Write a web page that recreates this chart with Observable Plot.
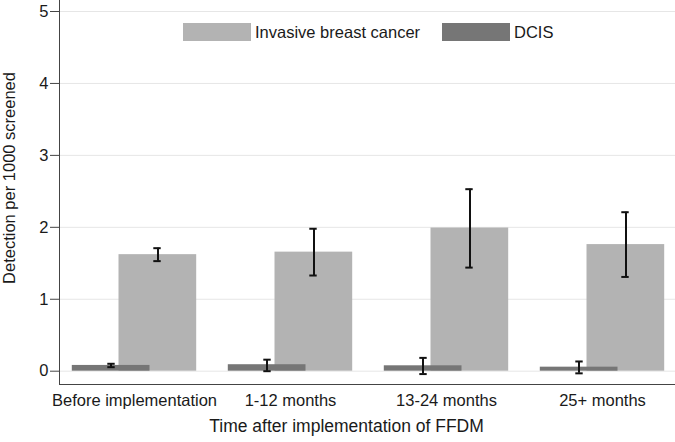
<!DOCTYPE html>
<html>
<head>
<meta charset="utf-8">
<script src="https://cdn.jsdelivr.net/npm/d3@7"></script>
<script src="https://cdn.jsdelivr.net/npm/@observablehq/plot@0.6"></script>
<style>
  html, body { margin: 0; padding: 0; background: white; }
  #wrap { position: relative; width: 675px; height: 442px; font-family: "Liberation Sans", Arial, Helvetica, sans-serif; color: #1a1a1a; }
  .legend { position: absolute; top: 23px; height: 18px; display: flex; align-items: center; font-size: 16.5px; white-space: nowrap; }
  .sw { display: inline-block; width: 68px; height: 18px; margin-right: 4px; }
</style>
</head>
<body>
<div id="wrap"></div>
<script>
// ---- data ----
const groups = ["Before implementation", "1-12 months", "13-24 months", "25+ months"];
const seriesNames = ["Invasive breast cancer", "DCIS"];
const seriesColors = ["#b3b3b3", "#767676"];
const invasive   = [1.62, 1.655, 1.99, 1.76];
const invasiveLo = [1.53, 1.33, 1.44, 1.31];
const invasiveHi = [1.71, 1.98, 2.53, 2.21];
const dcis   = [0.08, 0.09, 0.075, 0.056];
const dcisLo = [0.056, 0.0, -0.04, -0.03];
const dcisHi = [0.103, 0.16, 0.185, 0.135];
const yTicks = [0, 1, 2, 3, 4, 5];
const xLabel = "Time after implementation of FFDM";
const yLabel = "Detection per 1000 screened";

const invRows = groups.map((g, i) => ({group: g, value: invasive[i], lo: invasiveLo[i], hi: invasiveHi[i]}));
const dcisRows = groups.map((g, i) => ({group: g, value: dcis[i], lo: dcisLo[i], hi: dcisHi[i]}));

const errStyle = {stroke: "#111", strokeWidth: 2};

const chart = Plot.plot({
  width: 675,
  height: 442,
  marginLeft: 59,
  marginRight: 0,
  marginTop: 0,
  marginBottom: 58,
  style: {fontFamily: "'Liberation Sans', Arial, Helvetica, sans-serif", fontSize: "16px", color: "#1a1a1a", background: "white"},
  x: {type: "band", domain: groups, range: [54.25, 680.75], padding: 0, label: null},
  y: {domain: [-0.185, 5.153], label: null},
  marks: [
    Plot.gridY(yTicks, {stroke: "#e6e6e6", strokeOpacity: 1, strokeWidth: 1}),
    Plot.barY(invRows, {x: "group", y: "value", fill: seriesColors[0], insetLeft: 62.5, insetRight: 15.8}),
    Plot.barY(dcisRows, {x: "group", y: "value", fill: seriesColors[1], insetLeft: 15.8, insetRight: 62.5}),
    Plot.ruleX(invRows, {x: "group", y1: "lo", y2: "hi", dx: 23.5, ...errStyle}),
    Plot.tickY(invRows, {x: "group", y: "lo", insetLeft: 97.3, insetRight: 51.3, ...errStyle}),
    Plot.tickY(invRows, {x: "group", y: "hi", insetLeft: 97.3, insetRight: 51.3, ...errStyle}),
    Plot.ruleX(dcisRows, {x: "group", y1: "lo", y2: "hi", dx: -23.5, ...errStyle}),
    Plot.tickY(dcisRows, {x: "group", y: "lo", insetLeft: 51.3, insetRight: 97.3, ...errStyle}),
    Plot.tickY(dcisRows, {x: "group", y: "hi", insetLeft: 51.3, insetRight: 97.3, ...errStyle}),
    Plot.axisY(yTicks, {tickSize: 9, tickPadding: 2, fontSize: 16.5, tickFormat: "d", label: null, stroke: "#444"}),
    Plot.axisX({tickSize: 0, tickPadding: 10, fontSize: 16.5, label: null}),
    Plot.frame({anchor: "left", stroke: "#444"}),
    Plot.frame({anchor: "bottom", stroke: "#444"}),
    Plot.text([yLabel], {text: d => d, frameAnchor: "left", textAnchor: "middle", rotate: -90, dx: -50, dy: -14.5, fontSize: 16.5, fill: "#1a1a1a"}),
    Plot.text([xLabel], {text: d => d, frameAnchor: "bottom", textAnchor: "middle", dx: -21, dy: 47.5, fontSize: 17.5, fill: "#1a1a1a"})
  ]
});

const wrap = document.getElementById("wrap");
wrap.appendChild(chart);

// legend (inside plot area, top)
const legendPos = [183, 442];
seriesNames.forEach((name, i) => {
  const item = document.createElement("div");
  item.className = "legend";
  item.style.left = legendPos[i] + "px";
  const sw = document.createElement("span");
  sw.className = "sw";
  sw.style.background = seriesColors[i];
  const tx = document.createElement("span");
  tx.textContent = name;
  item.appendChild(sw);
  item.appendChild(tx);
  wrap.appendChild(item);
});
</script>
</body>
</html>
